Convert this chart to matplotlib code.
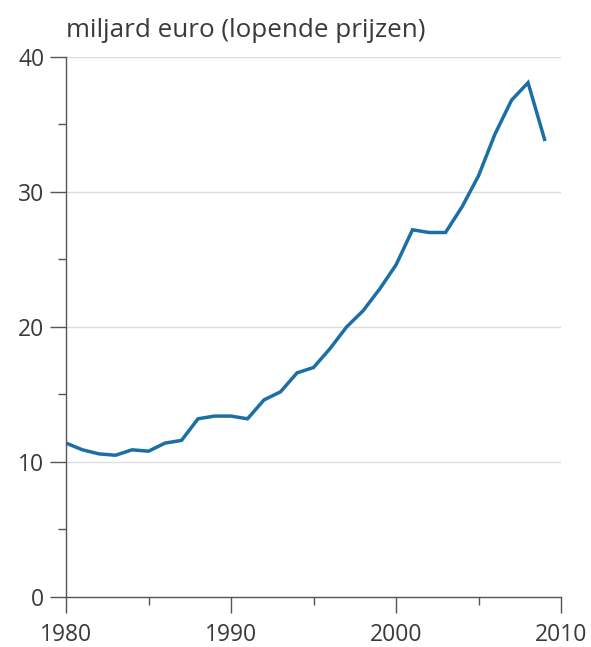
import numpy as np
import matplotlib.pyplot as plt
from matplotlib.ticker import MultipleLocator

# %%
# Data
years = list(range(1980, 2010))
values = [11.4, 10.9, 10.6, 10.5, 10.9, 10.8, 11.4, 11.6, 13.2, 13.4,
          13.4, 13.2, 14.6, 15.2, 16.6, 17.0, 18.4, 20.0, 21.2, 22.8,
          24.6, 27.2, 27.0, 27.0, 28.9, 31.2, 34.3, 36.8, 38.1, 33.9]
y_label = "miljard euro (lopende prijzen)"

# %%
plt.rcParams["font.family"] = ["Open Sans", "DejaVu Sans"]
fig = plt.figure(figsize=(5.91, 6.47), dpi=100)
ax = fig.add_axes([0.1117, 0.0773, 0.8376, 0.8346])

ax.plot(years, values, color="#1b6fa5", lw=2.5, solid_joinstyle="miter")

ax.set_xlim(1980, 2010)
ax.set_ylim(0, 40)
ax.xaxis.set_major_locator(MultipleLocator(10))
ax.xaxis.set_minor_locator(MultipleLocator(5))
ax.yaxis.set_major_locator(MultipleLocator(10))
ax.yaxis.set_minor_locator(MultipleLocator(5))

axis_col = "#555555"
ax.tick_params(which="major", length=11.5, width=1, color=axis_col,
               labelsize=16.5, labelcolor="#3a3a3a", pad=4)
ax.tick_params(axis="x", which="major", pad=7)
ax.tick_params(which="minor", length=6, width=1, color=axis_col)
for s in ["top", "right"]:
    ax.spines[s].set_visible(False)
for s in ["left", "bottom"]:
    ax.spines[s].set_color(axis_col)
    ax.spines[s].set_linewidth(1)

# light horizontal gridlines
for yv in [10, 20, 30, 40]:
    ax.axhline(yv, color="#dddddd", lw=1, zorder=0)

fig.text(0.1117, 0.943, y_label, fontsize=18.7, color="#3a3a3a",
         ha="left", va="baseline")

fig.savefig("out.png", dpi=100)
